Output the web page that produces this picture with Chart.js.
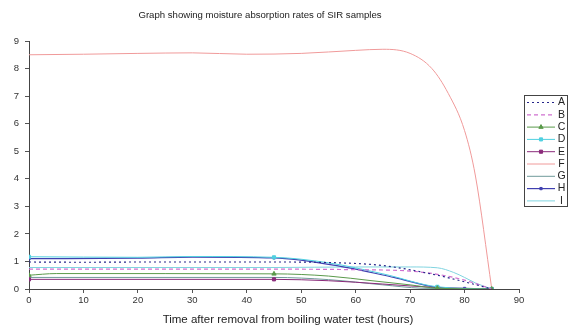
<!DOCTYPE html>
<html>
<head>
<meta charset="utf-8">
<script src="https://cdn.jsdelivr.net/npm/chart.js@4.4.1/dist/chart.umd.min.js"></script>
<style>
html,body{margin:0;padding:0;background:#fff;}
#wrap{width:583px;height:331px;position:relative;}
</style>
</head>
<body>
<div id="wrap"><canvas id="c" width="583" height="331"></canvas></div>
<script>
const chartTitle = 'Graph showing moisture absorption rates of SIR samples';
const xAxisTitle = 'Time after removal from boiling water test (hours)';
const seriesNames = ['A','B','C','D','E','F','G','H','I'];
const xTicks = [0,10,20,30,40,50,60,70,80,90];
const yTicks = [0,1,2,3,4,5,6,7,8,9];
const markerHours = [0,45,75,80,85];

const hoursA = [0,10,20,30,40,45,55,65,75,80,85];
const valuesA = [0.98,0.97,0.98,0.98,0.98,0.98,0.96,0.85,0.5,0.26,0];
const hoursB = [0,20,45,60,70,76,80,85];
const valuesB = [0.72,0.72,0.72,0.7,0.65,0.5,0.32,0];
const hoursC = [0,5,45,55,63,70,75,85];
const valuesC = [0.5,0.56,0.55,0.47,0.3,0.15,0.03,0];
const hoursD = [0,20,30,45,55,65,75,85];
const valuesD = [1.17,1.15,1.18,1.15,0.95,0.55,0.08,0];
const hoursE = [0,45,55,65,75,85];
const valuesE = [0.35,0.35,0.3,0.18,0.05,0];
const hoursF = [0,10,20,30,40,50,60,65,70,74,77,80,82,85];
const valuesF = [8.5,8.52,8.55,8.57,8.52,8.55,8.66,8.7,8.55,8.0,7.1,5.75,4.1,0];
const hoursG = [0,45,55,65,72,85];
const valuesG = [0.42,0.42,0.34,0.15,0.03,0];
const hoursH = [0,20,30,45,57,67,75,80,85];
const valuesH = [1.1,1.12,1.16,1.13,0.83,0.42,0.06,0.02,0];
const hoursI = [0,45,60,70,75,78,80,82,85];
const valuesI = [0.78,0.78,0.8,0.8,0.77,0.6,0.42,0.22,0];

const allHours = [hoursA,hoursB,hoursC,hoursD,hoursE,hoursF,hoursG,hoursH,hoursI];
const allValues = [valuesA,valuesB,valuesC,valuesD,valuesE,valuesF,valuesG,valuesH,valuesI];

const styles = [
  {color:'#26268a', dash:[2,3], width:1.2, marker:null},
  {color:'#d070d0', dash:[4,3], width:1.2, marker:null},
  {color:'#5a9a4a', dash:[], width:1, marker:'triangle', r:2.5},
  {color:'#50d0e0', dash:[], width:1, marker:'rect', r:2.2},
  {color:'#8a2a7a', dash:[], width:1, marker:'rect', r:2.2},
  {color:'#f09a9a', dash:[], width:1, marker:null},
  {color:'#709a9a', dash:[], width:1, marker:null},
  {color:'#4040b0', dash:[], width:1.2, marker:'rect', r:1.6},
  {color:'#80d4e0', dash:[], width:1, marker:null}
];

const FONT = 'Liberation Sans, Arial, sans-serif';

const datasets = seriesNames.map((name,i)=>{
  const s = styles[i];
  return {
    label: name,
    data: allHours[i].map((h,j)=>({x:h, y:allValues[i][j]})),
    borderColor: s.color,
    backgroundColor: s.color,
    borderWidth: s.width,
    borderDash: s.dash,
    cubicInterpolationMode: 'monotone',
    fill: false,
    pointStyle: s.marker || 'circle',
    pointRadius: ctx => (s.marker && markerHours.includes(ctx.raw.x)) ? s.r : 0,
    pointBorderWidth: 1,
    pointHoverRadius: 0
  };
});

const decor = {
  id:'decor',
  afterDraw(chart){
    const ctx = chart.ctx;
    ctx.save();
    ctx.fillStyle = '#222';
    ctx.textAlign = 'center';
    ctx.textBaseline = 'middle';
    ctx.font = '9.6px ' + FONT;
    ctx.fillText(chartTitle, 260, 15);
    ctx.font = '11.5px ' + FONT;
    ctx.fillText(xAxisTitle, 288, 320);
    // legend box
    const bx = 524, by = 95, bw = 43, bh = 111;
    ctx.strokeStyle = '#444';
    ctx.lineWidth = 1;
    ctx.strokeRect(bx+0.5, by+0.5, bw, bh);
    chart.data.datasets.forEach((ds,i)=>{
      const s = styles[i];
      const y = 102.5 + i*12.3;
      ctx.save();
      ctx.strokeStyle = s.color;
      ctx.lineWidth = s.width;
      ctx.setLineDash(s.dash);
      ctx.beginPath();
      ctx.moveTo(527, y);
      ctx.lineTo(555, y);
      ctx.stroke();
      ctx.restore();
      if (s.marker) {
        ctx.save();
        ctx.fillStyle = s.color;
        ctx.strokeStyle = s.color;
        ctx.lineWidth = 1;
        Chart.helpers.drawPoint(ctx, {pointStyle:s.marker, radius:s.r, borderWidth:1}, 541, y);
        ctx.restore();
      }
      ctx.fillStyle = '#222';
      ctx.font = '10.5px ' + FONT;
      ctx.textAlign = 'center';
      ctx.fillText(ds.label, 561.5, y);
    });
    ctx.restore();
  }
};

new Chart(document.getElementById('c'), {
  type:'line',
  data:{datasets},
  plugins:[decor],
  options:{
    responsive:false,
    animation:false,
    events:[],
    layout:{padding:{top:41, right:64, left:0, bottom:0}},
    plugins:{legend:{display:false}, title:{display:false}, tooltip:{enabled:false}},
    scales:{
      x:{
        type:'linear', min:0, max:90,
        afterBuildTicks: sc => { sc.ticks = xTicks.map(v=>({value:v})); },
        afterFit: sc => { sc.height = 42; },
        grid:{display:true, drawOnChartArea:false, drawTicks:true, tickLength:4, color:'#555'},
        border:{display:true, color:'#444', width:1},
        ticks:{font:{family:FONT, size:9.5}, color:'#333', padding:2, maxRotation:0}
      },
      y:{
        min:0, max:9,
        afterBuildTicks: sc => { sc.ticks = yTicks.map(v=>({value:v})); },
        afterFit: sc => { sc.width = 29; },
        grid:{display:true, drawOnChartArea:false, drawTicks:true, tickLength:4, color:'#555'},
        border:{display:true, color:'#444', width:1},
        ticks:{font:{family:FONT, size:9.5}, color:'#333', padding:6}
      }
    }
  }
});
</script>
</body>
</html>
